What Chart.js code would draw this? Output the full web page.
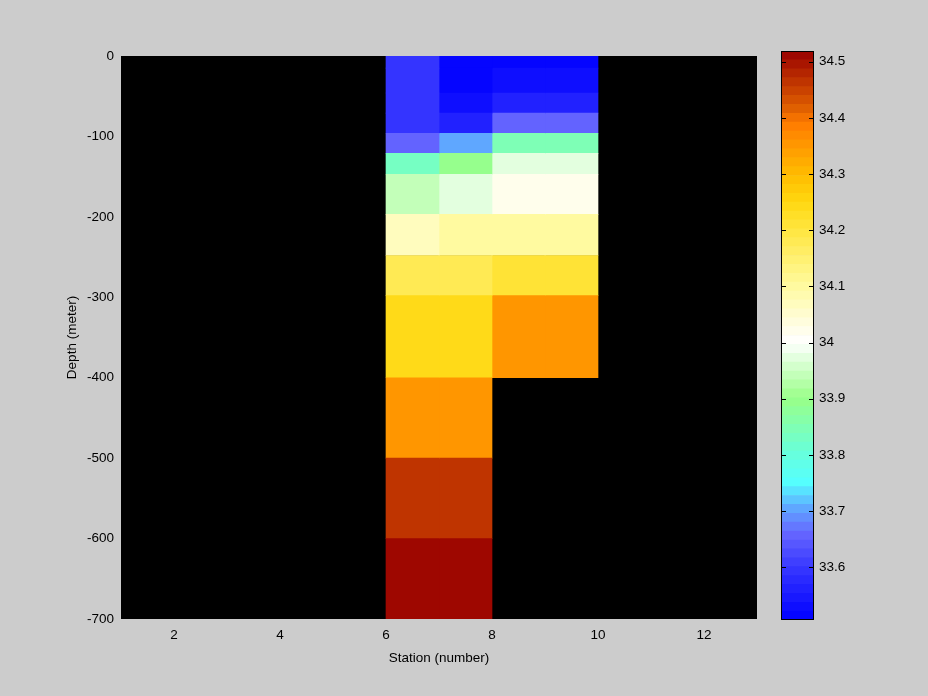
<!DOCTYPE html>
<html>
<head>
<meta charset="utf-8">
<script src="https://cdn.jsdelivr.net/npm/chart.js@4.4.0/dist/chart.umd.min.js"></script>
<style>
  html, body { margin: 0; padding: 0; background: #cccccc; }
  #wrap { position: relative; width: 928px; height: 696px; }
  #wrap canvas { position: absolute; left: 0; top: 0; }
</style>
</head>
<body>
<div id="wrap">
  <canvas id="section" width="928" height="696"></canvas>
  <canvas id="cbar" width="928" height="696"></canvas>
</div>
<script>
// ---- data (salinity section) ----
const stationEdges = [6, 7, 8, 9, 10];
const depthEdges = [0, 15, 46, 71, 96, 121, 147, 197, 248, 298, 400, 500, 600, 700];
// one value per depth layer, null = no data
const salStation6 = [33.59, 33.59, 33.59, 33.59, 33.66, 33.833, 33.94, 34.075, 34.178, 34.245, 34.348, 34.47, 34.51];
const salStation7 = [33.51, 33.51, 33.53, 33.563, 33.70, 33.90, 33.98, 34.10, 34.178, 34.245, 34.348, 34.47, 34.51];
const salStation8 = [33.51, 33.53, 33.563, 33.66, 33.85, 33.967, 34.024, 34.10, 34.213, 34.348, null, null, null];
const salStation9 = [33.51, 33.53, 33.563, 33.66, 33.85, 33.967, 34.024, 34.10, 34.213, 34.348, null, null, null];
const salColumns = [salStation6, salStation7, salStation8, salStation9];

const xTicks = [2, 4, 6, 8, 10, 12];
const yTicks = [0, -100, -200, -300, -400, -500, -600, -700];
const cbarTicks = [33.6, 33.7, 33.8, 33.9, 34.0, 34.1, 34.2, 34.3, 34.4, 34.5];
const cMin = 33.506, cMax = 34.519, nColors = 64;

// colormap anchors (value -> colour)
const cmapStops = [
  [33.506, '#0000ff'], [33.60, '#3838ff'], [33.66, '#6666ff'], [33.70, '#60a0ff'],
  [33.75, '#55ffff'], [33.80, '#66ffdd'], [33.90, '#99ff88'], [34.00, '#ffffff'],
  [34.10, '#fffaa0'], [34.20, '#ffe640'], [34.25, '#ffd810'], [34.30, '#ffbb00'],
  [34.395, '#ff7800'], [34.405, '#e86a00'], [34.519, '#990000']
];

function hexRgb(h) {
  return [parseInt(h.substr(1, 2), 16), parseInt(h.substr(3, 2), 16), parseInt(h.substr(5, 2), 16)];
}
function stopColor(v) {
  for (let i = 1; i < cmapStops.length; i++) {
    if (v <= cmapStops[i][0] || i === cmapStops.length - 1) {
      const [v0, c0] = cmapStops[i - 1], [v1, c1] = cmapStops[i];
      let t = (v - v0) / (v1 - v0);
      t = Math.max(0, Math.min(1, t));
      const a = hexRgb(c0), b = hexRgb(c1);
      const rgb = a.map((x, k) => Math.round(x + (b[k] - x) * t));
      return `rgb(${rgb[0]},${rgb[1]},${rgb[2]})`;
    }
  }
}
const step = (cMax - cMin) / nColors;
const bandColors = [];
for (let i = 0; i < nColors; i++) bandColors.push(stopColor(cMin + (i + 0.5) * step));
function colorFor(v) {
  let idx = Math.floor((v - cMin) / step);
  idx = Math.max(0, Math.min(nColors - 1, idx));
  return bandColors[idx];
}

const font = { family: '"Liberation Sans", Arial, sans-serif', size: 13.5 };

// ---- section plot ----
const sectionSets = salColumns.map((col, i) => {
  const xc = (stationEdges[i] + stationEdges[i + 1]) / 2;
  const pts = [], cols = [];
  col.forEach((v, k) => {
    if (v === null) return;
    pts.push({ x: xc, y: [-depthEdges[k], -depthEdges[k + 1]] });
    cols.push(colorFor(v));
  });
  return {
    data: pts, backgroundColor: cols, borderWidth: 0,
    grouped: false, barPercentage: 1, categoryPercentage: 1
  };
});

const plotBackground = {
  id: 'plotBackground',
  beforeDatasetsDraw(chart) {
    const a = chart.chartArea, ctx = chart.ctx;
    ctx.save();
    ctx.fillStyle = '#000';
    ctx.fillRect(a.left, a.top, a.right - a.left, a.bottom - a.top);
    ctx.restore();
  }
};

new Chart(document.getElementById('section'), {
  type: 'bar',
  data: { datasets: sectionSets },
  plugins: [plotBackground],
  options: {
    responsive: false, animation: false,
    layout: { padding: { top: 56, right: 171, bottom: 0, left: 0 } },
    plugins: { legend: { display: false }, tooltip: { enabled: false } },
    scales: {
      x: {
        type: 'linear', min: 1, max: 13, offset: false,
        afterBuildTicks: s => { s.ticks = xTicks.map(v => ({ value: v })); },
        afterFit: s => { s.height = 77; },
        grid: { display: false, drawTicks: false }, border: { display: false },
        ticks: { color: '#000', font, padding: 8, maxRotation: 0 },
        title: { display: true, text: 'Station (number)', color: '#000', font, padding: { top: 0, bottom: 30 } }
      },
      y: {
        type: 'linear', min: -700, max: 0,
        afterBuildTicks: s => { s.ticks = yTicks.map(v => ({ value: v })); },
        afterFit: s => { s.width = 121; },
        grid: { display: false, drawTicks: false }, border: { display: false },
        ticks: { color: '#000', font, padding: 7 },
        title: { display: true, text: 'Depth (meter)', color: '#000', font, padding: { top: 64, bottom: 0 } }
      }
    }
  }
});

// ---- colour bar ----
const cbarSets = bandColors.map((c, i) => ({
  data: [[cMin + i * step, cMin + (i + 1) * step]],
  backgroundColor: c, borderWidth: 0,
  grouped: false, barPercentage: 1, categoryPercentage: 1
}));

const cbarFrame = {
  id: 'cbarFrame',
  afterDatasetsDraw(chart) {
    const { ctx, chartArea: a } = chart;
    const y = chart.scales.y;
    ctx.save();
    ctx.strokeStyle = '#000';
    ctx.lineWidth = 1;
    ctx.beginPath();
    cbarTicks.forEach(v => {
      const py = Math.round(y.getPixelForValue(v)) + 0.5;
      ctx.moveTo(a.left, py); ctx.lineTo(a.left + 5, py);
      ctx.moveTo(a.right - 5, py); ctx.lineTo(a.right, py);
    });
    ctx.stroke();
    ctx.strokeRect(a.left + 0.5, a.top + 0.5, a.right - a.left - 1, a.bottom - a.top - 1);
    ctx.restore();
  }
};

new Chart(document.getElementById('cbar'), {
  type: 'bar',
  data: { labels: [''], datasets: cbarSets },
  plugins: [cbarFrame],
  options: {
    responsive: false, animation: false,
    layout: { padding: { top: 51, right: 0, bottom: 76, left: 781 } },
    plugins: { legend: { display: false }, tooltip: { enabled: false } },
    scales: {
      x: { display: false },
      y: {
        position: 'right', min: cMin, max: cMax,
        afterBuildTicks: s => { s.ticks = cbarTicks.map(v => ({ value: v })); },
        afterFit: s => { s.width = 114; },
        grid: { display: false, drawTicks: false }, border: { display: false },
        ticks: { color: '#000', font, padding: 5, callback: v => String(Number(v.toFixed(1))) }
      }
    }
  }
});
</script>
</body>
</html>
